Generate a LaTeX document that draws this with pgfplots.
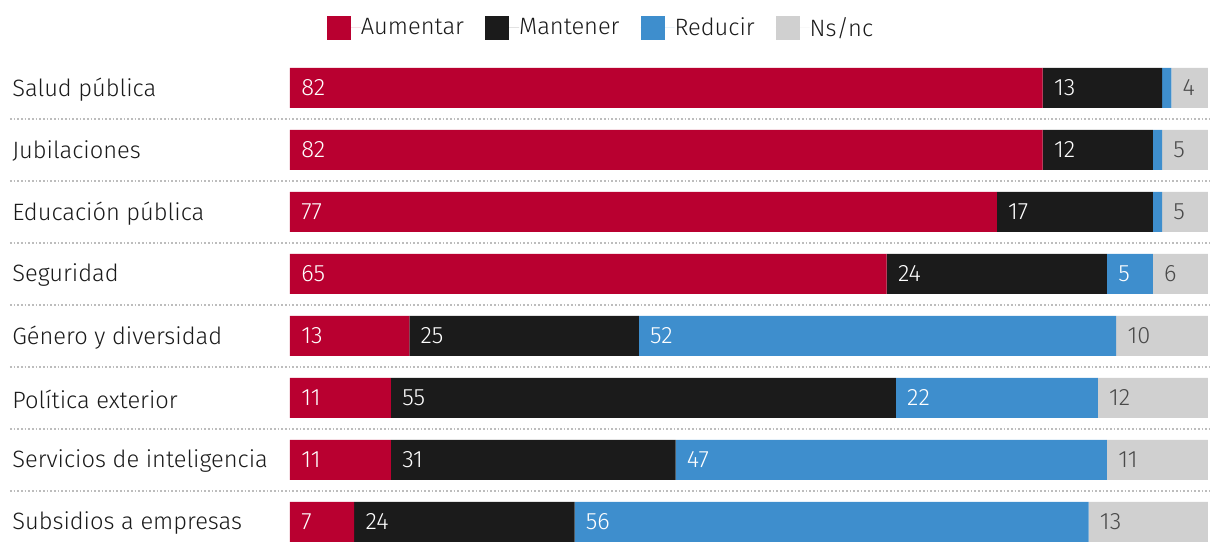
\documentclass[border=0pt]{standalone}
\usepackage{pgfplots}
\pgfplotsset{compat=1.18}
\usepackage{pgfplotstable}
\usepackage{fontspec}
\setmainfont{Fira Sans}[UprightFont={* Light}]

\definecolor{aum}{HTML}{B90030}
\definecolor{man}{HTML}{1B1B1B}
\definecolor{red}{HTML}{3E8ECD}
\definecolor{nsnc}{HTML}{D0D0D0}
\definecolor{txt}{HTML}{1A1A1A}
\definecolor{graytxt}{HTML}{4A4A4A}
\definecolor{sep}{HTML}{BDBDBD}

\newcommand{\fs}{\fontsize{14.2pt}{16pt}\selectfont}

% y: 7 = Salud publica ... 0 = Subsidios a empresas
% v = share, s = where the segment starts, lab = printed label
\pgfplotstableread{
y v s lab
7 82 0 82
6 82 0 82
5 77 0 77
4 65 0 65
3 13 0 13
2 11 0 11
1 11 0 11
0 7 0 7
}\aumentar
\pgfplotstableread{
y v s lab
7 13 82 13
6 12 82 12
5 17 77 17
4 24 65 24
3 25 13 25
2 55 11 55
1 31 11 31
0 24 7 24
}\mantener
\pgfplotstableread{
y v s lab
7 1 95 {}
6 1 94 {}
5 1 94 {}
4 5 89 5
3 52 38 52
2 22 66 22
1 47 42 47
0 56 31 56
}\reducir
\pgfplotstableread{
y v s lab
7 4 96 4
6 5 95 5
5 5 95 5
4 6 94 6
3 10 90 10
2 12 88 12
1 11 89 11
0 13 87 13
}\nsnc

\pgfplotsset{
  frame/.style={
    x=5.508pt, y=37.2pt,
    xmin=0, xmax=100, ymin=-0.5, ymax=7.5,
    clip=false,
  },
  lbl/.style={draw=none, mark=none, nodes near coords, point meta=explicit symbolic,
    nodes near coords style={anchor=west, inner sep=0pt, xshift=6.6pt, font=\fs, text=#1}},
}

\begin{document}
\begin{tikzpicture}
\begin{axis}[
  frame,
  xbar stacked, bar width=24pt,
  axis line style={draw=none}, tick style={draw=none},
  xtick=\empty, ytick={0,...,7},
  yticklabels={Subsidios a empresas, Servicios de inteligencia, Política exterior,
    Género y diversidad, Seguridad, Educación pública, Jubilaciones, Salud pública},
  yticklabel style={anchor=west, inner sep=0pt, xshift=-166.8pt, yshift=-0.8pt, font=\fs, text=txt},
  legend columns=-1,
  legend image code/.code={\fill[#1] (0pt,-7.2pt) rectangle (14.4pt,7.2pt);
    \path (0pt,0pt) -- (20.4pt,0pt);},
  legend style={at={(rel axis cs:0.3377,1)}, yshift=17.4pt, anchor=center,
    draw=none, fill=none, font=\fs, inner sep=0pt,
    nodes={inner sep=0pt, text=txt},
    /tikz/every even column/.append style={column sep=12.6pt}},
]
\pgfplotsinvokeforeach{0.5,1.5,2.5,3.5,4.5,5.5,6.5}{
  \draw[sep, line width=0.8pt, dash pattern=on 1.1pt off 1.1pt] (axis cs:-30.5,#1) -- (axis cs:100.2,#1);
}
\addplot[fill=aum, draw=none] table[x=v, y=y] {\aumentar};
\addlegendentry{Aumentar}
\addplot[fill=man, draw=none] table[x=v, y=y] {\mantener};
\addlegendentry{Mantener}
\addplot[fill=red, draw=none] table[x=v, y=y] {\reducir};
\addlegendentry{Reducir}
\addplot[fill=nsnc, draw=none] table[x=v, y=y] {\nsnc};
\addlegendentry{Ns/nc}
\coordinate (tl) at (axis cs:-31.59,8.419);
\coordinate (br) at (axis cs:101.31,-0.516);
\end{axis}
\begin{axis}[frame, hide axis]
\addplot[lbl=white] table[x=s, y=y, meta=lab] {\aumentar};
\addplot[lbl=white] table[x=s, y=y, meta=lab] {\mantener};
\addplot[lbl=white] table[x=s, y=y, meta=lab] {\reducir};
\addplot[lbl=graytxt] table[x=s, y=y, meta=lab] {\nsnc};
\end{axis}
\pgfresetboundingbox
\path[use as bounding box] (tl) rectangle (br);
\end{tikzpicture}
\end{document}
